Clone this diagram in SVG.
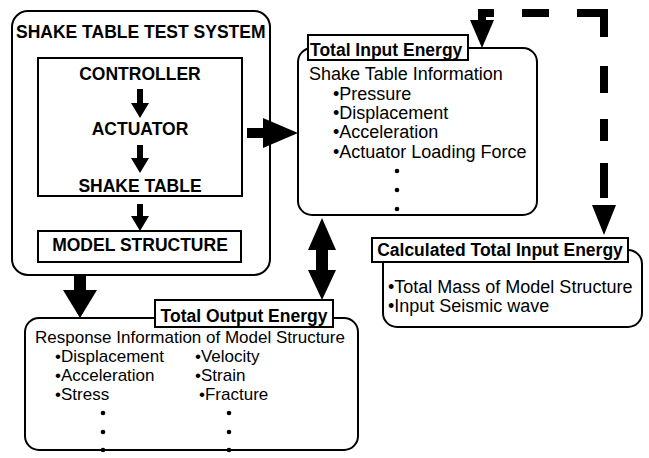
<svg xmlns="http://www.w3.org/2000/svg" width="649" height="458" viewBox="0 0 649 458">
<style>
.box{fill:#fff;stroke:#000;stroke-width:2}
.t{font-family:"Liberation Sans",Arial,sans-serif;font-size:17px;fill:#000}
.r{font-size:18px}
.b{font-family:"Liberation Sans",Arial,sans-serif;font-size:17.5px;font-weight:bold;fill:#000}
.c{text-anchor:middle}
.dash{fill:none;stroke:#000;stroke-width:8;stroke-linecap:butt;stroke-linejoin:miter}
</style>
<rect width="649" height="458" fill="#fff"/>
<g id="shake-table-system">
<rect class="box" x="12" y="11" width="258" height="264" rx="16"/>
<text class="b" x="16" y="38">SHAKE TABLE TEST SYSTEM</text>
</g>
<g id="inner-box">
<rect class="box" x="38" y="58" width="204" height="138"/>
</g>
<g id="controller"><text class="b c" x="140" y="80">CONTROLLER</text></g>
<g id="actuator"><text class="b c" x="140" y="135">ACTUATOR</text></g>
<g id="shake-table"><text class="b c" x="140" y="192">SHAKE TABLE</text></g>
<g id="model-structure">
<rect class="box" x="38" y="231" width="203" height="31"/>
<text class="b c" x="140" y="251">MODEL STRUCTURE</text>
</g>
<g id="total-input-energy">
<rect class="box" x="298" y="48" width="239" height="167" rx="14"/>
<rect class="box" x="308" y="35" width="160" height="25"/>
<text class="b" x="310" y="56">Total Input Energy</text>
<text class="t r" x="309" y="80">Shake Table Information</text>
<text class="t r" x="333" y="100">•Pressure</text>
<text class="t r" x="333" y="119">•Displacement</text>
<text class="t r" x="333" y="138">•Acceleration</text>
<text class="t r" x="333" y="158">•Actuator Loading Force</text>
<circle cx="397" cy="171" r="2.3"/>
<circle cx="397" cy="190" r="2.3"/>
<circle cx="397" cy="209" r="2.3"/>
</g>
<g id="total-output-energy">
<rect class="box" x="25" y="318" width="333" height="132" rx="14"/>
<rect class="box" x="155" y="300" width="178" height="27"/>
<text class="b c" x="244" y="322">Total Output Energy</text>
<text class="t" x="35" y="343">Response Information of Model Structure</text>
<text class="t" x="55" y="362">•Displacement</text>
<text class="t" x="55" y="381">•Acceleration</text>
<text class="t" x="55" y="400">•Stress</text>
<text class="t" x="195" y="362">•Velocity</text>
<text class="t" x="195" y="381">•Strain</text>
<text class="t" x="199" y="400">•Fracture</text>
<circle cx="103" cy="413" r="2.3"/>
<circle cx="103" cy="432" r="2.3"/>
<circle cx="103" cy="450" r="2.3"/>
<circle cx="229" cy="413" r="2.3"/>
<circle cx="229" cy="432" r="2.3"/>
<circle cx="229" cy="450" r="2.3"/>
</g>
<g id="calculated-total-input-energy">
<rect class="box" x="383" y="250" width="259" height="77" rx="14"/>
<rect class="box" x="372" y="238" width="256" height="24"/>
<text class="b c" x="500" y="256">Calculated Total Input Energy</text>
<text class="t r" x="388" y="293">•Total Mass of Model Structure</text>
<text class="t r" x="388" y="312">•Input Seismic wave</text>
</g>
<g id="connectors">
<polygon points="137,89 143,89 143,103 149,103 140,118 131,103 137,103"/>
<polygon points="137,145 143,145 143,158 149,158 140,173 131,158 137,158"/>
<polygon points="137,204 143,204 143,216 149,216 140,231 131,216 137,216"/>
<polygon points="74,275 86,275 86,290 97,290 80,318 63,290 74,290"/>
<polygon points="247,128 263,128 263,118 298,133 263,148 263,138 247,138"/>
<polygon points="322,218 336,250 328,250 328,270 336,270 322,300 308,270 316,270 316,250 308,250"/>
<path class="dash" d="M482,24 V13 H494"/>
<path class="dash" d="M522,13 H549"/>
<path class="dash" d="M577,13 H604 V37"/>
<path class="dash" d="M604,66 V93"/>
<path class="dash" d="M604,119 V141"/>
<path class="dash" d="M604,163 V198"/>
<polygon points="470,20 494,20 482,48"/>
<polygon points="592,205 616,205 604,235"/>
</g>
</svg>
